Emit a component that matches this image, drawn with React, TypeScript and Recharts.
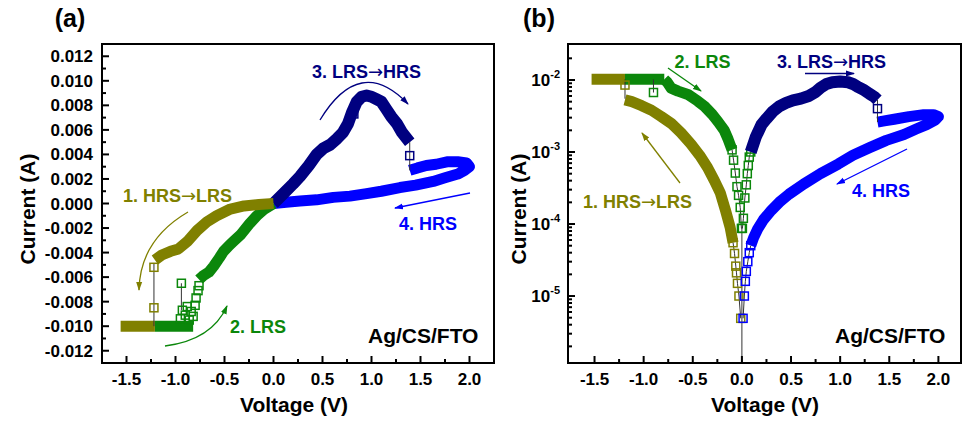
import React from 'react';
import { ScatterChart, Scatter, XAxis, YAxis, ReferenceArea } from 'recharts';

const FONT = "'Liberation Sans', Arial, Helvetica, sans-serif";
const ARROW_FONT = "'DejaVu Sans', sans-serif";
const OLIVE = '#808000';
const GREEN = '#0b870b';
const NAVY = '#000080';
const BLUE = '#0000ff';
const LINK = '#333';

type P = [number, number];

// axis ticks
const voltMajor = [-1.5, -1.0, -0.5, 0, 0.5, 1.0, 1.5, 2.0];
const voltMinor = [-1.25, -0.75, -0.25, 0.25, 0.75, 1.25, 1.75];
const linMajor = [-0.012, -0.01, -0.008, -0.006, -0.004, -0.002, 0, 0.002, 0.004, 0.006, 0.008, 0.01, 0.012];
const linMinor = [-0.011, -0.009, -0.007, -0.005, -0.003, -0.001, 0.001, 0.003, 0.005, 0.007, 0.009, 0.011];
const logMajor = [1e-5, 1e-4, 1e-3, 1e-2];
const logMinor = [
  2e-6, 3e-6, 4e-6, 5e-6, 6e-6, 7e-6, 8e-6, 9e-6,
  2e-5, 3e-5, 4e-5, 5e-5, 6e-5, 7e-5, 8e-5, 9e-5,
  2e-4, 3e-4, 4e-4, 5e-4, 6e-4, 7e-4, 8e-4, 9e-4,
  2e-3, 3e-3, 4e-3, 5e-3, 6e-3, 7e-3, 8e-3, 9e-3,
  2e-2,
];

// ---- (a) linear current, V vs A ----
const hrsLrsA: P[] = [[0, 0], [-0.15, -0.00008], [-0.3, -0.0002], [-0.44, -0.00045], [-0.58, -0.001], [-0.68, -0.0015], [-0.78, -0.0022], [-0.88, -0.0031], [-0.97, -0.0037], [-1.05, -0.0039], [-1.14, -0.0042], [-1.21, -0.0046]];
const hrsLrsFlatA: P[] = [[-1.21, -0.01], [-1.56, -0.01]];
const hrsLrsJumpA: P[] = [[-1.22, -0.0049], [-1.22, -0.01]];
const hrsLrsDotsA: P[] = [[-1.22, -0.0052], [-1.22, -0.0085]];

const lrsFlatA: P[] = [[-1.21, -0.01], [-0.82, -0.01]];
const lrsJumpA: P[] = [[-0.94, -0.0065], [-0.94, -0.0087]];
const lrsDotsA: P[] = [[-0.94, -0.0065], [-0.95, -0.0094], [-0.93, -0.0087], [-0.9, -0.0091], [-0.88, -0.0084], [-0.86, -0.0095], [-0.84, -0.0088], [-0.82, -0.0092], [-0.8, -0.0083], [-0.79, -0.0077], [-0.77, -0.0071], [-0.76, -0.0067]];
const lrsA: P[] = [[-0.76, -0.0062], [-0.72, -0.0059], [-0.66, -0.0056], [-0.61, -0.0051], [-0.55, -0.0044], [-0.51, -0.0039], [-0.45, -0.0034], [-0.41, -0.0031], [-0.33, -0.0025], [-0.24, -0.0016], [-0.17, -0.001], [-0.1, -0.0005], [0, 0]];

const lrsHrsA: P[] = [[0, 0], [0.1, 0.0008], [0.2, 0.0016], [0.27, 0.0022], [0.36, 0.0031], [0.44, 0.004], [0.51, 0.0045], [0.58, 0.0048], [0.65, 0.0053], [0.71, 0.0058], [0.76, 0.0065], [0.8, 0.0074], [0.85, 0.0083], [0.9, 0.0087], [0.95, 0.0088], [1.0, 0.0087], [1.05, 0.0085], [1.1, 0.0083], [1.15, 0.0077], [1.2, 0.0071], [1.26, 0.0065], [1.31, 0.0058], [1.36, 0.0053], [1.39, 0.005]];
const lrsHrsJumpA: P[] = [[1.39, 0.005], [1.39, 0.0027]];
const lrsHrsDotsA: P[] = [[0.82, 0.0073], [1.39, 0.0039]];

const hrsA: P[] = [[1.39, 0.0027], [1.47, 0.0029], [1.56, 0.0031], [1.66, 0.0032], [1.77, 0.0034], [1.88, 0.0034], [1.97, 0.0033], [2.0, 0.003], [1.95, 0.0027], [1.88, 0.0024], [1.75, 0.0021], [1.63, 0.0018], [1.45, 0.0015], [1.29, 0.0013], [1.1, 0.001], [0.95, 0.0008], [0.78, 0.0006], [0.61, 0.0005], [0.44, 0.0003], [0.27, 0.0002], [0.13, 0.0001], [0, 0]];

// ---- (b) |I| on log scale ----
const hrsLrsFlatB: P[] = [[-1.53, 0.0102], [-1.19, 0.0102]];
const hrsLrsJumpB: P[] = [[-1.19, 0.0102], [-1.19, 0.0055]];
const hrsLrsDotsB: P[] = [[-1.19, 0.0085]];
const hrsLrsB: P[] = [[-1.19, 0.0053], [-1.12, 0.005], [-1.02, 0.0044], [-0.92, 0.0038], [-0.82, 0.0031], [-0.72, 0.0025], [-0.62, 0.00185], [-0.52, 0.0013], [-0.43, 0.0009], [-0.35, 0.00061], [-0.28, 0.0004], [-0.22, 0.00027], [-0.17, 0.00016], [-0.12, 0.00009], [-0.09, 0.000055]];
const hrsLrsTailB: P[] = [[-0.09, 0.000055], [-0.075, 0.000039], [-0.062, 0.000026], [-0.055, 0.000021], [-0.045, 0.000015], [-0.03, 0.00001], [-0.012, 0.0000049]];

const lrsFlatB: P[] = [[-1.19, 0.0102], [-0.79, 0.0102]];
const lrsJumpB: P[] = [[-0.9, 0.0102], [-0.9, 0.0067]];
const lrsDotsB: P[] = [[-0.9, 0.0067]];
const lrsB: P[] = [[-0.79, 0.0102], [-0.76, 0.0093], [-0.72, 0.0077], [-0.65, 0.007], [-0.55, 0.0063], [-0.45, 0.0051], [-0.38, 0.0043], [-0.3, 0.0033], [-0.24, 0.0026], [-0.18, 0.002], [-0.14, 0.0015], [-0.1, 0.00107]];
const lrsTailB: P[] = [[-0.1, 0.00107], [-0.085, 0.00077], [-0.067, 0.00051], [-0.05, 0.00033], [-0.034, 0.00025], [-0.017, 0.00017], [-0.005, 0.000087], [0.005, 0.000087], [0.015, 0.00012], [0.03, 0.00023], [0.045, 0.00035], [0.055, 0.0005], [0.065, 0.00065], [0.075, 0.00085], [0.09, 0.001]];

const lrsHrsB: P[] = [[0.09, 0.001], [0.14, 0.0016], [0.2, 0.0024], [0.25, 0.0029], [0.31, 0.0036], [0.38, 0.0043], [0.45, 0.0048], [0.52, 0.0052], [0.6, 0.0055], [0.68, 0.006], [0.75, 0.0068], [0.8, 0.0078], [0.86, 0.0088], [0.92, 0.0093], [1.0, 0.0095], [1.08, 0.0093], [1.13, 0.0088], [1.18, 0.008], [1.24, 0.0073], [1.3, 0.0064], [1.35, 0.0058], [1.38, 0.0053]];
const lrsHrsJumpB: P[] = [[1.38, 0.0053], [1.38, 0.0026]];
const lrsHrsDotsB: P[] = [[1.38, 0.004]];

const hrsB: P[] = [[1.38, 0.0026], [1.45, 0.0027], [1.55, 0.00285], [1.7, 0.0031], [1.85, 0.0033], [1.95, 0.0033], [2.0, 0.0031], [1.97, 0.0028], [1.88, 0.0024], [1.78, 0.0021], [1.65, 0.00175], [1.47, 0.00145], [1.3, 0.00115], [1.13, 0.0009], [0.98, 0.00068], [0.8, 0.0005], [0.63, 0.00036], [0.48, 0.00026], [0.38, 0.0002], [0.3, 0.000155], [0.22, 0.000115], [0.16, 0.000085], [0.12, 0.000065], [0.09, 0.00005]];
const hrsTailB: P[] = [[0.09, 0.00005], [0.075, 0.00004], [0.06, 0.00003], [0.045, 0.000022], [0.035, 0.000016], [0.025, 0.00001], [0.012, 0.0000049]];
const zeroB: P[] = [[0, 0.000087], [0, 0.0000012]];

const toPts = (arr: P[]) => arr.map(([v, i]) => ({ v, i }));
const sorted = (a: number[]) => [...a].sort((x, y) => x - y);

const noDot = () => <g />;
const square = (color: string) => (p: any) => (
  <rect x={p.cx - 4} y={p.cy - 4} width={8} height={8} fill="none" stroke={color} strokeWidth={1.5} />
);

const band = (data: P[], color: string, w = 11) => (
  <Scatter data={toPts(data)} fill={color} shape={noDot} isAnimationActive={false}
    line={{ stroke: color, strokeWidth: w, strokeLinejoin: 'round', strokeLinecap: 'butt' }} />
);
const link = (data: P[]) => (
  <Scatter data={toPts(data)} fill={LINK} shape={noDot} isAnimationActive={false} line={{ stroke: LINK, strokeWidth: 1 }} />
);
const dots = (data: P[], color: string, joined = false) => (
  <Scatter data={toPts(data)} fill={color} shape={square(color)} isAnimationActive={false}
    line={joined ? { stroke: LINK, strokeWidth: 1 } : false} />
);

const tickText = { fontFamily: FONT, fontWeight: 700, fontSize: 17, fill: '#000' };
const near = (list: number[], v: number) => list.some((m) => Math.abs(m - v) < 1e-9);

const voltTick = (p: any) => {
  const v = p.payload.value;
  const major = near(voltMajor, v);
  return (
    <g>
      <line x1={p.x} x2={p.x} y1={p.y} y2={p.y - (major ? 7 : 4)} stroke="#000" strokeWidth={2} />
      {major && <text x={p.x} y={p.y + 22} textAnchor="middle" {...tickText}>{v.toFixed(1)}</text>}
    </g>
  );
};
const linTick = (p: any) => {
  const v = p.payload.value;
  const major = near(linMajor, v);
  return (
    <g>
      <line x1={p.x} x2={p.x + (major ? 7 : 4)} y1={p.y} y2={p.y} stroke="#000" strokeWidth={2} />
      {major && <text x={p.x - 9} y={p.y + 6} textAnchor="end" {...tickText}>{v.toFixed(3)}</text>}
    </g>
  );
};
const logTick = (p: any) => {
  const v = p.payload.value;
  const major = logMajor.some((m) => Math.abs(m / v - 1) < 1e-6);
  return (
    <g>
      <line x1={p.x} x2={p.x + (major ? 7 : 4)} y1={p.y} y2={p.y} stroke="#000" strokeWidth={2} />
      {major && (
        <text x={p.x - 8} y={p.y + 6} textAnchor="end" {...tickText}>
          10<tspan dy={-8} fontSize={11}>{Math.round(Math.log10(v))}</tspan>
        </text>
      )}
    </g>
  );
};

const V_DOMAIN_A: [number, number] = [-1.75, 2.25];
const I_DOMAIN_A: [number, number] = [-0.013, 0.013];
const V_DOMAIN_B: [number, number] = [-1.77, 2.23];
const I_DOMAIN_B: [number, number] = [1.175e-6, 0.0316];

const axisCommon = { type: 'number' as const, allowDataOverflow: true, interval: 0 as const, tickSize: 0, tickMargin: 0, axisLine: false, tickLine: false };

function LinearPanel() {
  return (
    <ScatterChart width={500} height={423} margin={{ top: 44, right: 6, bottom: 0, left: 0 }}>
      <XAxis {...axisCommon} dataKey="v" domain={V_DOMAIN_A} ticks={sorted([...voltMajor, ...voltMinor])} tick={voltTick} height={60} />
      <YAxis {...axisCommon} dataKey="i" domain={I_DOMAIN_A} ticks={sorted([...linMajor, ...linMinor])} tick={linTick} width={102} />
      {band(hrsA, BLUE)}
      {band(lrsHrsA, NAVY, 12)}
      {band(lrsFlatA, GREEN)}
      {band(lrsA, GREEN)}
      {link(lrsJumpA)}
      {dots(lrsDotsA, GREEN)}
      {band(hrsLrsA, OLIVE)}
      {band(hrsLrsFlatA, OLIVE)}
      {link(hrsLrsJumpA)}
      {dots(hrsLrsDotsA, OLIVE)}
      {link(lrsHrsJumpA)}
      {dots(lrsHrsDotsA, NAVY)}
      <ReferenceArea x1={V_DOMAIN_A[0]} x2={V_DOMAIN_A[1]} y1={I_DOMAIN_A[0]} y2={I_DOMAIN_A[1]} fill="none" stroke="#000" strokeWidth={2} ifOverflow="visible" />
    </ScatterChart>
  );
}

function LogPanel() {
  return (
    <ScatterChart width={500} height={423} margin={{ top: 44, right: 5, bottom: 0, left: 0 }}>
      <XAxis {...axisCommon} dataKey="v" domain={V_DOMAIN_B} ticks={sorted([...voltMajor, ...voltMinor])} tick={voltTick} height={60} />
      <YAxis {...axisCommon} dataKey="i" scale="log" domain={I_DOMAIN_B} ticks={sorted([...logMajor, ...logMinor])} tick={logTick} width={102} />
      {link(zeroB)}
      {band(hrsLrsFlatB, OLIVE)}
      {band(lrsFlatB, GREEN)}
      {band(lrsB, GREEN)}
      {link(lrsJumpB)}
      {dots(lrsDotsB, GREEN)}
      {dots(lrsTailB, GREEN, true)}
      {band(hrsLrsB, OLIVE)}
      {link(hrsLrsJumpB)}
      {dots(hrsLrsDotsB, OLIVE)}
      {dots(hrsLrsTailB, OLIVE, true)}
      {band(hrsB, BLUE)}
      {dots(hrsTailB, BLUE, true)}
      {band(lrsHrsB, NAVY, 12)}
      {link(lrsHrsJumpB)}
      {dots(lrsHrsDotsB, NAVY)}
      <ReferenceArea x1={V_DOMAIN_B[0]} x2={V_DOMAIN_B[1]} y1={I_DOMAIN_B[0]} y2={I_DOMAIN_B[1]} fill="none" stroke="#000" strokeWidth={2} ifOverflow="visible" />
    </ScatterChart>
  );
}

const note = { fontFamily: FONT, fontWeight: 700, fontSize: 18, textAnchor: 'middle' as const };
const title = { fontFamily: FONT, fontWeight: 700, fontSize: 21, fill: '#000', textAnchor: 'middle' as const };

function Arrowhead({ id, color }: { id: string; color: string }) {
  return (
    <marker id={id} markerWidth={9} markerHeight={8} refX={8} refY={4} orient="auto" markerUnits="userSpaceOnUse">
      <path d="M0,1 L9,4 L0,7 Z" fill={color} />
    </marker>
  );
}

// "LRS→HRS" style label: the arrow glyph comes from DejaVu, which centres it properly
function Switch({ x, y, color, text }: { x: number; y: number; color: string; text: string }) {
  const [a, b] = text.split('→');
  return (
    <text x={x} y={y} {...note} fill={color}>
      {a}
      <tspan fontFamily={ARROW_FONT} fontWeight={400}>→</tspan>
      {b}
    </text>
  );
}

function Notes() {
  const arrow = (d: string, color: string, id: string) => (
    <path d={d} fill="none" stroke={color} strokeWidth={1.3} markerEnd={`url(#${id})`} />
  );
  return (
    <svg width={966} height={423} style={{ position: 'absolute', left: 0, top: 0, pointerEvents: 'none' }}>
      <defs>
        <Arrowhead id="ah-olive" color={OLIVE} />
        <Arrowhead id="ah-green" color={GREEN} />
        <Arrowhead id="ah-navy" color={NAVY} />
        <Arrowhead id="ah-blue" color={BLUE} />
      </defs>
      {/* panel (a) */}
      <text x={70} y={27} {...title} fontSize={25}>(a)</text>
      <text x={27} y={216.5} transform="rotate(-90 27 209)" {...title}>Current (A)</text>
      <text x={294} y={412} {...title}>Voltage (V)</text>
      <Switch x={366.5} y={78} color={NAVY} text="3. LRS→HRS" />
      {arrow('M320,120 Q360,54 408,104', NAVY, 'ah-navy')}
      <Switch x={177.5} y={201.5} color={OLIVE} text="1. HRS→LRS" />
      {arrow('M188,212 Q140,240 139,290', OLIVE, 'ah-olive')}
      <text x={258} y={333} {...note} fill={GREEN}>2. LRS</text>
      {arrow('M165,346 Q212,340 227,306', GREEN, 'ah-green')}
      <text x={428} y={230} {...note} fill={BLUE}>4. HRS</text>
      {arrow('M470,193 L395,208', BLUE, 'ah-blue')}
      <text x={368} y={343} {...title} textAnchor="start">Ag/CS/FTO</text>
      {/* panel (b) */}
      <text x={539} y={27} {...title} fontSize={25}>(b)</text>
      <text x={518} y={216.5} transform="rotate(-90 518 209)" {...title}>Current (A)</text>
      <text x={765} y={412} {...title}>Voltage (V)</text>
      <text x={702.5} y={68} {...note} fill={GREEN}>2. LRS</text>
      {arrow('M668,68 L701,91', GREEN, 'ah-green')}
      <Switch x={831.5} y={68} color={NAVY} text="3. LRS→HRS" />
      {arrow('M805,73.5 L854,73.5', NAVY, 'ah-navy')}
      <Switch x={637.5} y={208} color={OLIVE} text="1. HRS→LRS" />
      {arrow('M680,183 L642,133', OLIVE, 'ah-olive')}
      <text x={881} y={196.5} {...note} fill={BLUE}>4. HRS</text>
      {arrow('M907,149 L837,184', BLUE, 'ah-blue')}
      <text x={835} y={343} {...title} textAnchor="start">Ag/CS/FTO</text>
    </svg>
  );
}

export default function App() {
  return (
    <div style={{ position: 'absolute', left: 0, top: 0, width: 966, height: 423, background: '#fff', overflow: 'hidden' }}>
      <div style={{ position: 'absolute', left: 0, top: 0 }}>
        <LinearPanel />
      </div>
      <div style={{ position: 'absolute', left: 466, top: 0 }}>
        <LogPanel />
      </div>
      <Notes />
    </div>
  );
}
